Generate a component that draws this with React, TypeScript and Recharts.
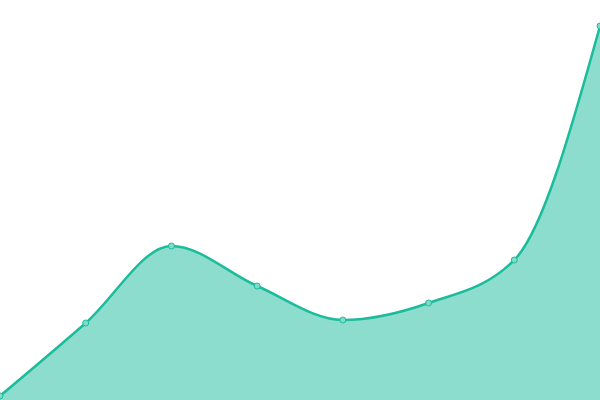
import React from "react";
import { AreaChart, Area, XAxis, YAxis } from "recharts";

const categories = ["A", "B", "C", "D", "E", "F", "G", "H"];
const values = [1, 19.25, 38.5, 28.5, 20, 24.25, 35, 93.5];

const data = categories.map((c, i) => ({ name: c, value: values[i] }));

export default function App() {
  return (
    <div style={{ position: "absolute", left: 0, top: 0, width: 600, height: 400 }}>
      <AreaChart width={600} height={400} data={data} margin={{ top: 0, right: 0, bottom: 0, left: 0 }}>
        <XAxis dataKey="name" hide />
        <YAxis hide domain={[0, 100]} />
        <Area
          type="monotone"
          dataKey="value"
          stroke="#1abc9c"
          strokeWidth={2.5}
          fill="#1abc9c"
          fillOpacity={0.5}
          dot={{ r: 3, fill: "#7fdcc8", stroke: "#1abc9c", strokeWidth: 1, fillOpacity: 1 }}
          activeDot={false}
          isAnimationActive={false}
        />
      </AreaChart>
    </div>
  );
}
